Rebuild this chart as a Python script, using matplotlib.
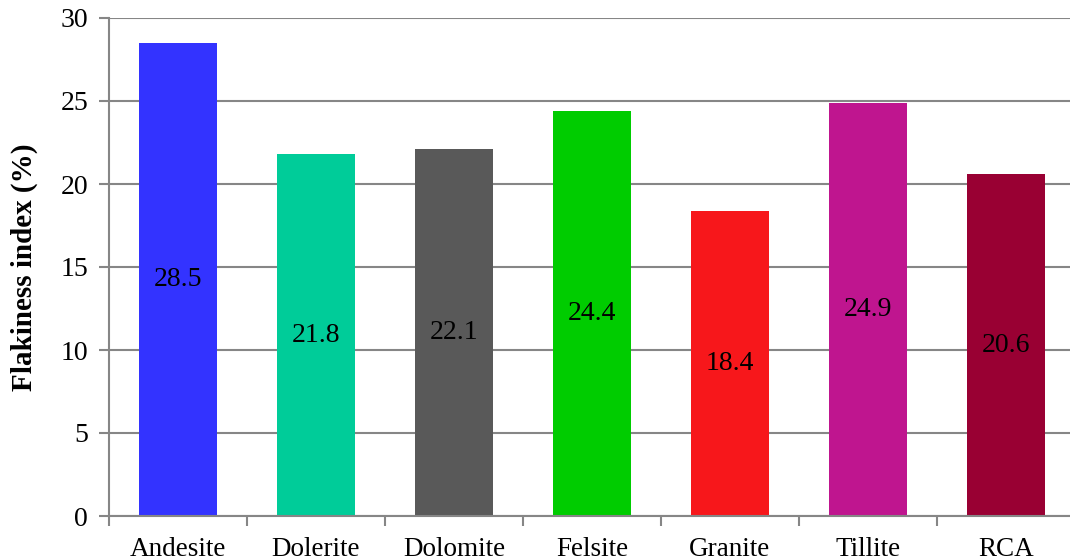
import matplotlib
matplotlib.use("Agg")
import matplotlib.pyplot as plt

categories = ["Andesite", "Dolerite", "Dolomite", "Felsite", "Granite", "Tillite", "RCA"]
flakiness = [28.5, 21.8, 22.1, 24.4, 18.4, 24.9, 20.6]
colors = ["#3333FF", "#00CC99", "#595959", "#00CC00", "#F7171B", "#BF158F", "#990033"]
y_ticks = [0, 5, 10, 15, 20, 25, 30]

plt.rcParams["font.family"] = ["Liberation Serif", "DejaVu Serif"]

W, H = 1070, 560
fig = plt.figure(figsize=(W / 100, H / 100), dpi=100)
left, right, top, bottom = 109, 1075, 18, 516
ax = fig.add_axes([left / W, 1 - bottom / H, (right - left) / W, (bottom - top) / H])

grid_col = "#868686"
x = list(range(len(categories)))
ax.bar(x, flakiness, width=0.56, color=colors, zorder=3)
for xi, v in zip(x, flakiness):
    ax.text(xi, v / 2, f"{v}", ha="center", va="center", fontsize=20, color="black", zorder=4)

ax.set_xlim(-0.5, len(categories) - 0.5)
ax.set_ylim(0, 30)
ax.set_yticks(y_ticks)
ax.set_xticks(x)
ax.set_xticklabels(categories, fontsize=19.5)
ax.set_xticks([i + 0.5 for i in range(-1, len(categories))], minor=True)
ax.tick_params(axis="x", which="major", length=0, pad=15)
ax.tick_params(axis="x", which="minor", length=7, width=1.5, color=grid_col)
ax.tick_params(axis="y", length=7, width=1.5, color=grid_col, labelsize=20, pad=8)

ax.yaxis.grid(True, color=grid_col, linewidth=1.5, zorder=0)
for side in ["top", "right"]:
    ax.spines[side].set_visible(False)
for side in ["left", "bottom"]:
    ax.spines[side].set_color(grid_col)
    ax.spines[side].set_linewidth(1.5)
ax.spines["bottom"].set_zorder(5)

ax.set_ylabel("Flakiness index (%)", fontsize=21, fontweight="bold", labelpad=16)

fig.savefig("out.png", dpi=100)
